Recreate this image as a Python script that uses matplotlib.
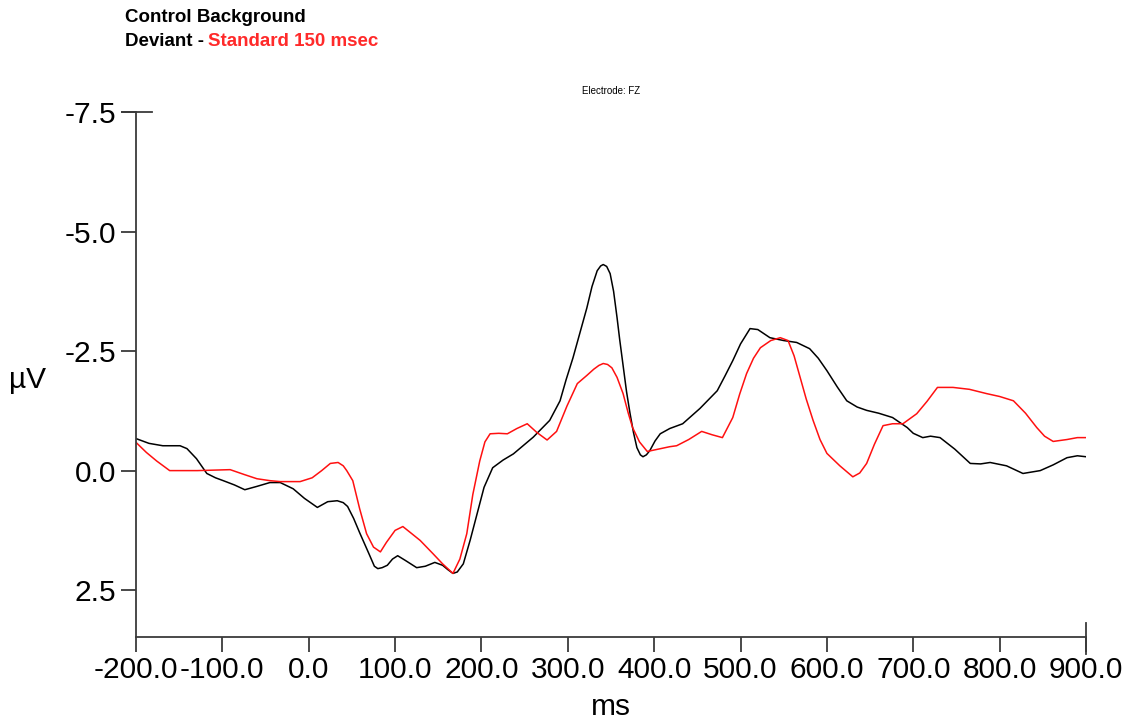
import matplotlib
matplotlib.use("Agg")
import matplotlib.pyplot as plt
from matplotlib.lines import Line2D

plt.rcParams['font.family'] = ['Liberation Sans', 'DejaVu Sans']

# Grand-average ERP at electrode FZ (negative up)
deviant_ms = [-200, -185, -169, -149, -141, -130, -118, -108, -99, -86, -74, -60, -45,
              -33, -18, -5, 10, 22, 33, 40, 45, 52, 59, 70, 76, 80, 85, 91, 97, 103,
              112, 125, 135, 146, 155, 161, 167, 172, 179, 187, 195, 203, 213, 225,
              237, 260, 279, 291, 298, 306, 314, 322, 328, 334, 338, 341, 345, 349,
              353, 357, 360, 364, 368, 372, 376, 380, 384, 387, 391, 395, 401, 407,
              418, 433, 453, 473, 482, 491, 500, 511, 520, 534, 550, 565, 580, 590,
              600, 612, 623, 635, 646, 660, 676, 693, 700, 711, 720, 731, 748, 766,
              778, 789, 808, 827, 847, 862, 878, 890, 900]
deviant_uv = [-0.67, -0.57, -0.52, -0.52, -0.46, -0.25, 0.06, 0.15, 0.21, 0.30, 0.40,
              0.33, 0.25, 0.25, 0.38, 0.58, 0.77, 0.65, 0.63, 0.67, 0.75, 1.00, 1.30,
              1.75, 2.00, 2.05, 2.03, 1.98, 1.85, 1.78, 1.88, 2.03, 2.00, 1.92, 1.98,
              2.07, 2.15, 2.12, 1.95, 1.45, 0.90, 0.35, -0.06, -0.22, -0.35, -0.70,
              -1.05, -1.46, -1.90, -2.36, -2.88, -3.40, -3.85, -4.18, -4.28, -4.31,
              -4.27, -4.12, -3.75, -3.20, -2.75, -2.20, -1.65, -1.20, -0.80, -0.48,
              -0.33, -0.29, -0.33, -0.42, -0.62, -0.77, -0.88, -0.98, -1.30, -1.67,
              -1.98, -2.30, -2.65, -2.97, -2.95, -2.78, -2.72, -2.68, -2.55, -2.35,
              -2.09, -1.75, -1.46, -1.33, -1.26, -1.20, -1.11, -0.90, -0.78, -0.69,
              -0.72, -0.69, -0.45, -0.15, -0.14, -0.17, -0.10, 0.06, 0.00, -0.12,
              -0.27, -0.31, -0.29]

standard_ms = [-200, -188, -176, -161, -145, -129, -110, -91, -75, -60, -45, -33, -10,
               4, 15, 25, 34, 40, 44, 51, 59, 67, 75, 83, 90, 100, 109, 118, 129, 144,
               155, 167, 175, 183, 190, 198, 204, 210, 220, 230, 241, 253, 264, 276,
               287, 299, 311, 322, 330, 336, 341, 346, 351, 357, 364, 370, 375, 383,
               392, 405, 418, 426, 440, 455, 467, 479, 491, 499, 507, 515, 523, 535,
               546, 555, 562, 569, 576, 584, 592, 600, 615, 630, 638, 646, 655, 665,
               676, 688, 704, 716, 728, 746, 765, 785, 800, 816, 830, 843, 852, 862,
               878, 890, 900]
standard_uv = [-0.59, -0.38, -0.20, 0.00, 0.00, 0.00, -0.01, -0.02, 0.08, 0.17, 0.21,
               0.23, 0.23, 0.15, 0.00, -0.15, -0.17, -0.10, 0.00, 0.21, 0.80, 1.32,
               1.60, 1.70, 1.50, 1.25, 1.17, 1.30, 1.46, 1.74, 1.95, 2.15, 1.85, 1.32,
               0.50, -0.20, -0.60, -0.77, -0.78, -0.77, -0.88, -0.98, -0.80, -0.64,
               -0.82, -1.35, -1.82, -1.99, -2.12, -2.20, -2.24, -2.22, -2.15, -1.95,
               -1.61, -1.20, -0.90, -0.60, -0.40, -0.45, -0.50, -0.52, -0.65, -0.82,
               -0.75, -0.69, -1.11, -1.60, -2.03, -2.35, -2.57, -2.72, -2.78, -2.72,
               -2.40, -1.95, -1.50, -1.05, -0.65, -0.36, -0.10, 0.13, 0.05, -0.15,
               -0.55, -0.94, -0.98, -0.98, -1.19, -1.45, -1.74, -1.74, -1.70, -1.61,
               -1.55, -1.46, -1.20, -0.90, -0.72, -0.61, -0.65, -0.69, -0.69]

x_ticks = [-200, -100, 0, 100, 200, 300, 400, 500, 600, 700, 800, 900]
y_ticks = [-7.5, -5.0, -2.5, 0.0, 2.5]

axis_color = '#3a3a3a'

fig = plt.figure(figsize=(11.35, 7.21), dpi=100)
ax = fig.add_axes([136 / 1135, 1 - 637 / 721, 950 / 1135, (637 - 112) / 721])

ax.plot(deviant_ms, deviant_uv, color='black', lw=1.1, solid_joinstyle='round')
ax.plot(standard_ms, standard_uv, color='#ff1010', lw=1.1, solid_joinstyle='round')

ax.set_xlim(-200, 900)
ax.set_ylim(3.48, -7.5)

for side in ('top', 'right'):
    ax.spines[side].set_visible(False)
for side in ('left', 'bottom'):
    ax.spines[side].set_color(axis_color)
    ax.spines[side].set_linewidth(1.3)

ax.set_xticks(x_ticks)
ax.set_xticklabels([f"{v:.1f}" for v in x_ticks])
ax.set_yticks(y_ticks)
ax.set_yticklabels([f"{v:.1f}" for v in y_ticks])
ax.tick_params(axis='both', direction='out', length=11, width=1.3, color=axis_color,
               labelsize=21.5, pad=3)

# caps at the ends of the axes
ax.add_line(Line2D([-0.015, 0.017], [1, 1], transform=ax.transAxes,
                   color=axis_color, lw=1.3, clip_on=False))
ax.add_line(Line2D([1, 1], [-0.033, 0.027], transform=ax.transAxes,
                   color=axis_color, lw=1.3, clip_on=False))

ax.set_xlabel('ms', fontsize=21.5, labelpad=6)
ax.set_ylabel('µV', fontsize=21.5, rotation=0, va='center', ha='center')
ax.yaxis.set_label_coords(-0.114, 0.49)

ax.text(0.5, 1.04, 'Electrode: FZ', transform=ax.transAxes, ha='center',
        va='center', fontsize=7)

fig.text(125 / 1135, 1 - 18 / 721, 'Control Background', fontsize=13.5,
         fontweight='bold', ha='left', va='center')
t2 = fig.text(125 / 1135, 1 - 42 / 721, 'Deviant - ', fontsize=13.5,
              fontweight='bold', ha='left', va='center')
ax.annotate('Standard 150 msec', xy=(1, 0), xycoords=t2, xytext=(-1, 0),
            textcoords='offset points', ha='left', va='bottom',
            fontsize=13.5, fontweight='bold', color='#ff2a2a',
            annotation_clip=False)

fig.savefig('out.png', dpi=100)
